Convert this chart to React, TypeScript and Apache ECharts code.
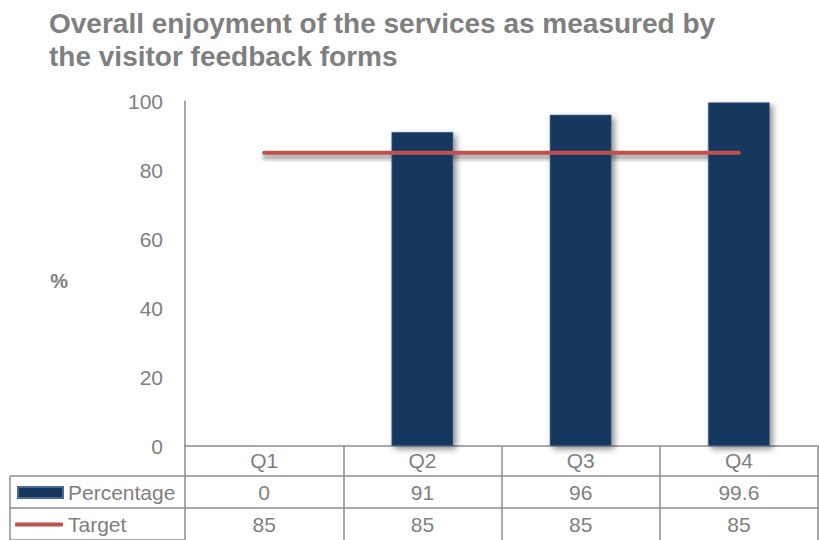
import React, { useEffect, useRef } from "react";
import * as echarts from "echarts";

// Quarterly visitor feedback: share of visitors enjoying the services vs. the 85% target
const quarters = ["Q1", "Q2", "Q3", "Q4"];
const percentage = [0, 91, 96, 99.6];
const target = [85, 85, 85, 85];
const yTicks = { min: 0, max: 100, interval: 20 };

const FONT = 'Arial, "Liberation Sans", Helvetica, sans-serif';
const TEXT = "#7f7f7f";
const RULE = "#8c8c8c";
const NAVY = "#17375E";
const RED = "#C0504D";

export default function App() {
  const ref = useRef<HTMLDivElement>(null);

  useEffect(() => {
    if (!ref.current) return;
    const chart = echarts.init(ref.current, null, { renderer: "svg" });

    const gridLeft = 185;
    const gridTop = 101;
    const gridBottom = 94;
    const rowH = 32;
    const headH = 30;
    const axisY = 540 - gridBottom;

    const tableAxis = (data: string[], offset: number, len: number, margin: number) => ({
      type: "category" as const,
      gridIndex: 0,
      position: "bottom" as const,
      offset,
      data,
      boundaryGap: true,
      axisLine: { show: true, lineStyle: { color: RULE, width: 1.5 } },
      axisTick: { show: true, interval: 0, length: len, lineStyle: { color: RULE, width: 1.5 } },
      axisLabel: {
        interval: 0,
        margin,
        color: TEXT,
        fontFamily: FONT,
        fontSize: 21,
      },
      splitLine: { show: false },
    });

    const hLine = (y: number) => ({
      type: "line",
      shape: { x1: 10, y1: y, x2: gridLeft, y2: y },
      style: { stroke: RULE, lineWidth: 1.5 },
      silent: true,
    });

    // soft drop shadow under the target line, built from layered translucent strokes
    const shadowLayers = [
      { w: 11, a: 0.06 },
      { w: 8, a: 0.09 },
      { w: 4, a: 0.14 },
    ];
    const renderTargetShadow = (params: any, api: any) => {
      const i = params.dataIndex;
      if (i >= target.length - 1) return null;
      const p0 = api.coord([i, target[i]]);
      const p1 = api.coord([i + 1, target[i + 1]]);
      const dx = 2;
      const dy = 4;
      return {
        type: "group",
        children: shadowLayers.map((l) => ({
          type: "polyline",
          shape: { points: [[p0[0] + dx, p0[1] + dy], [p1[0] + dx, p1[1] + dy]] },
          style: { stroke: `rgba(0,0,0,${l.a})`, lineWidth: l.w, lineCap: "round", fill: null },
          silent: true,
        })),
      };
    };

    chart.setOption({
      animation: false,
      backgroundColor: "#ffffff",
      title: {
        text: "Overall enjoyment of the services as measured by\nthe visitor feedback forms",
        left: 44,
        top: 2,
        textStyle: {
          color: TEXT,
          fontFamily: FONT,
          fontSize: 28,
          fontWeight: "bold",
          lineHeight: 33,
        },
      },
      legend: [
        {
          data: [{ name: "Percentage", icon: "rect" }],
          left: 12,
          top: axisY + headH + 1,
          itemWidth: 45,
          itemHeight: 11,
          itemGap: 6,
          textStyle: { color: TEXT, fontFamily: FONT, fontSize: 21 },
          selectedMode: false,
        },
        {
          data: [{ name: "Target", icon: "roundRect" }],
          left: 10,
          top: axisY + headH + rowH + 1,
          itemWidth: 48,
          itemHeight: 4,
          itemGap: 6,
          textStyle: { color: TEXT, fontFamily: FONT, fontSize: 21 },
          selectedMode: false,
        },
      ],
      grid: { left: gridLeft, right: 1, top: gridTop, bottom: gridBottom, containLabel: false },
      xAxis: [
        tableAxis(quarters, 0, headH, 4),
        tableAxis(percentage.map(String), headH, rowH, 6),
        tableAxis(target.map(String), headH + rowH, rowH, 6),
      ],
      yAxis: {
        type: "value",
        min: yTicks.min,
        max: yTicks.max,
        interval: yTicks.interval,
        name: "%",
        nameLocation: "middle",
        nameRotate: 0,
        nameGap: 117,
        nameTextStyle: {
          color: TEXT,
          fontFamily: FONT,
          fontSize: 20,
          fontWeight: "bold",
          verticalAlign: "top",
          lineHeight: 14,
        },
        axisLine: { show: true, lineStyle: { color: RULE, width: 1.5 } },
        axisTick: { show: false },
        splitLine: { show: false },
        axisLabel: { color: TEXT, fontFamily: FONT, fontSize: 21, margin: 22 },
      },
      series: [
        {
          name: "Percentage",
          type: "bar",
          data: percentage,
          barWidth: "39%",
          z: 2,
          itemStyle: {
            color: NAVY,
            borderColor: "#4a6a94",
            borderWidth: 0.6,
            shadowColor: "rgba(0,0,0,0.45)",
            shadowBlur: 6,
            shadowOffsetX: 3,
            shadowOffsetY: 3,
          },
        },
        {
          name: "target-shadow",
          type: "custom",
          data: target.map((v, i) => [i, v]),
          encode: { x: 0, y: 1 },
          renderItem: renderTargetShadow,
          silent: true,
          z: 2,
        },
        {
          name: "Target",
          type: "line",
          data: target,
          symbol: "none",
          color: RED,
          lineStyle: { color: RED, width: 4, cap: "round" },
          z: 3,
        },
      ],
      graphic: [
        hLine(axisY + headH),
        hLine(axisY + headH + rowH),
        hLine(axisY + headH + 2 * rowH),
        {
          type: "line",
          shape: { x1: 10, y1: axisY + headH, x2: 10, y2: axisY + headH + 2 * rowH },
          style: { stroke: RULE, lineWidth: 1.5 },
          silent: true,
        },
      ],
    });

    return () => chart.dispose();
  }, []);

  return (
    <div
      ref={ref}
      style={{ position: "fixed", left: 0, top: 0, width: 819, height: 540, background: "#fff" }}
    />
  );
}
